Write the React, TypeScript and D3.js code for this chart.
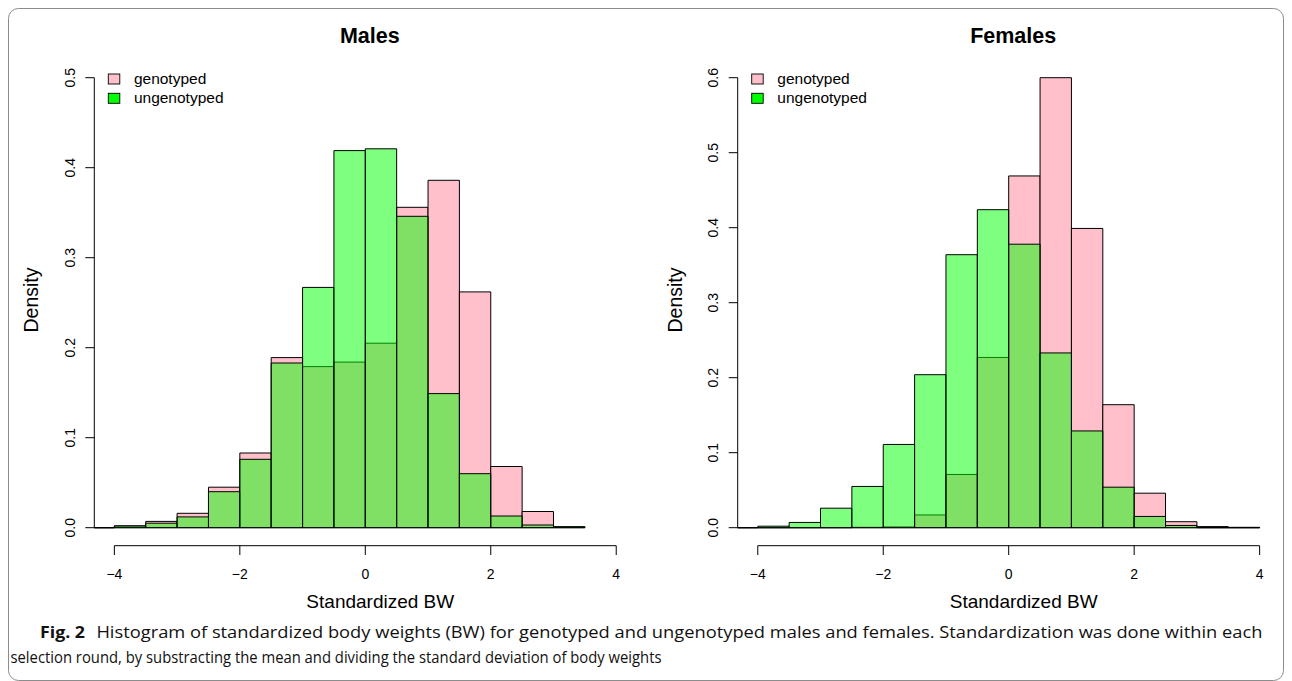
import React from "react";
import * as d3 from "d3";

// ---------- data ----------
const binStarts = [-4.5, -4, -3.5, -3, -2.5, -2, -1.5, -1, -0.5, 0, 0.5, 1, 1.5, 2, 2.5, 3, 3.5];
const binWidth = 0.5;

const malesGenotyped = [0, 0.002, 0.007, 0.016, 0.045, 0.083, 0.189, 0.179, 0.184, 0.205, 0.356, 0.386, 0.262, 0.068, 0.018, 0.001];
const malesUngenotyped = [0, 0.002, 0.005, 0.012, 0.04, 0.076, 0.183, 0.267, 0.419, 0.421, 0.346, 0.149, 0.06, 0.013, 0.003, 0.001];

const femalesGenotyped = [0, 0, 0, 0, 0.0005, 0.001, 0.017, 0.071, 0.227, 0.469, 0.6, 0.399, 0.164, 0.046, 0.008, 0.0015, 0.0005];
const femalesUngenotyped = [0, 0.002, 0.007, 0.026, 0.055, 0.111, 0.204, 0.364, 0.424, 0.378, 0.233, 0.129, 0.054, 0.015, 0.003, 0, 0];

const xTicks = [-4, -2, 0, 2, 4];
const malesYTicks = [0, 0.1, 0.2, 0.3, 0.4, 0.5];
const femalesYTicks = [0, 0.1, 0.2, 0.3, 0.4, 0.5, 0.6];
const legendLabels = ["genotyped", "ungenotyped"];

const captionBold = "Fig. 2";
const captionLine1 =
  "Histogram of standardized body weights (BW) for genotyped and ungenotyped males and females. Standardization was done within each";
const captionLine2 =
  "selection round, by substracting the mean and dividing the standard deviation of body weights";

// ---------- styling ----------
const PINK = "#FFC0CB";
const GREEN_A = "rgba(0,255,0,0.5)";
const FONT = "'Liberation Sans', Arial, sans-serif";
const CAPTION_FONT = "'Open Sans', 'Noto Sans', sans-serif";

type PanelProps = {
  id: string;
  x0: number;
  title: string;
  yMaxDomain: number;
  yMinDomain: number;
  yTicks: number[];
  geno: number[];
  ungeno: number[];
};

const X_DOMAIN: [number, number] = [-4.32, 4.32];
const PLOT_W = 542;
const Y_BOTTOM = 545.7;
const ZERO_Y = 527.7;

function barPath(x: d3.ScaleLinear<number, number>, y: d3.ScaleLinear<number, number>, start: number, v: number) {
  const p = d3.path();
  const x0 = x(start);
  const x1 = x(start + binWidth);
  const y0 = y(0);
  const y1 = y(v);
  p.moveTo(x0, y0);
  p.lineTo(x0, y1);
  p.lineTo(x1, y1);
  p.lineTo(x1, y0);
  p.closePath();
  return p.toString();
}

function Panel({ id, x0, title, yMaxDomain, yMinDomain, yTicks, geno, ungeno }: PanelProps) {
  const x = d3.scaleLinear().domain(X_DOMAIN).range([x0, x0 + PLOT_W]);
  const pxPerUnit = (Y_BOTTOM - ZERO_Y) / (0 - yMinDomain);
  const yTop = ZERO_Y - yMaxDomain * pxPerUnit;
  const y = d3.scaleLinear().domain([yMinDomain, yMaxDomain]).range([Y_BOTTOM, yTop]);
  const yMaxTick = yTicks[yTicks.length - 1];
  const cx = x(0);

  return (
    <g>
      <defs>
        <clipPath id={`clip-${id}`}>
          <rect x={x0} y={yTop} width={PLOT_W} height={Y_BOTTOM - yTop} />
        </clipPath>
      </defs>
      <text x={cx + 4.5} y={42.7} textAnchor="middle" fontFamily={FONT} fontWeight="bold" fontSize={21.5} fill="#000">
        {title}
      </text>

      <g clipPath={`url(#clip-${id})`}>
        {geno.map((v, i) => (
          <path key={`g${i}`} d={barPath(x, y, binStarts[i], v)} fill={PINK} stroke="#000" strokeWidth={1} />
        ))}
        {ungeno.map((v, i) => (
          <path key={`u${i}`} d={barPath(x, y, binStarts[i], v)} fill={GREEN_A} stroke="#000" strokeWidth={1} />
        ))}
      </g>

      {/* y axis */}
      <line x1={x0} x2={x0} y1={y(0)} y2={y(yMaxTick)} stroke="#000" strokeWidth={1} />
      {yTicks.map((t) => (
        <g key={`yt${t}`}>
          <line x1={x0 - 9} x2={x0} y1={y(t)} y2={y(t)} stroke="#000" strokeWidth={1} />
          <text
            transform={`translate(${x0 - 19.3},${y(t)}) rotate(-90)`}
            textAnchor="middle"
            fontFamily={FONT}
            fontSize={14}
            fill="#000"
          >
            {d3.format(".1f")(t)}
          </text>
        </g>
      ))}
      <text
        transform={`translate(${x0 - 56},300) rotate(-90)`}
        textAnchor="middle"
        fontFamily={FONT}
        fontSize={19.5}
        fill="#000"
      >
        Density
      </text>

      {/* x axis */}
      <line x1={x(xTicks[0])} x2={x(xTicks[xTicks.length - 1])} y1={Y_BOTTOM} y2={Y_BOTTOM} stroke="#000" strokeWidth={1} />
      {xTicks.map((t) => (
        <g key={`xt${t}`}>
          <line x1={x(t)} x2={x(t)} y1={Y_BOTTOM} y2={Y_BOTTOM + 9.3} stroke="#000" strokeWidth={1} />
          <text x={x(t)} y={579.3} textAnchor="middle" fontFamily={FONT} fontSize={14} fill="#000">
            {t < 0 ? `\u2212${Math.abs(t)}` : `${t}`}
          </text>
        </g>
      ))}
      <text x={cx + 15} y={608.3} textAnchor="middle" fontFamily={FONT} fontSize={19} fill="#000">
        Standardized BW
      </text>

      {/* legend */}
      {legendLabels.map((lab, i) => (
        <g key={lab}>
          <rect
            x={x0 + 14}
            y={74 + i * 19.3}
            width={11.5}
            height={10}
            fill={i === 0 ? PINK : "#00FF00"}
            stroke="#000"
            strokeWidth={0.9}
          />
          <text x={x0 + 39.6} y={84 + i * 19.3} fontFamily={FONT} fontSize={15.5} fill="#000">
            {lab}
          </text>
        </g>
      ))}
    </g>
  );
}

export default function App() {
  return (
    <svg
      width={1292}
      height={681}
      viewBox="0 0 1292 681"
      style={{ position: "absolute", left: 0, top: 0, background: "#fff" }}
    >
      <rect x={0} y={0} width={1292} height={681} fill="#fff" />
      <rect x={8.5} y={8.5} width={1275} height={672} rx={10} ry={10} fill="none" stroke="#8c8c8c" strokeWidth={1} />

      <Panel
        id="m"
        x0={94.3}
        title="Males"
        yMinDomain={-0.02}
        yMaxDomain={0.52}
        yTicks={malesYTicks}
        geno={malesGenotyped}
        ungeno={malesUngenotyped}
      />
      <Panel
        id="f"
        x0={737.7}
        title="Females"
        yMinDomain={-0.024}
        yMaxDomain={0.624}
        yTicks={femalesYTicks}
        geno={femalesGenotyped}
        ungeno={femalesUngenotyped}
      />

      <text x={40} y={637.5} fontFamily={CAPTION_FONT} fontWeight="bold" fontSize={16.5} textLength={45} lengthAdjust="spacingAndGlyphs" fill="#111">
        {captionBold}
      </text>
      <text x={96.4} y={637.5} fontFamily={CAPTION_FONT} fontSize={16.5} textLength={1166} lengthAdjust="spacingAndGlyphs" fill="#111">
        {captionLine1}
      </text>
      <text x={10.5} y={662.5} fontFamily={CAPTION_FONT} fontSize={16.5} textLength={651} lengthAdjust="spacingAndGlyphs" fill="#111">
        {captionLine2}
      </text>
    </svg>
  );
}
